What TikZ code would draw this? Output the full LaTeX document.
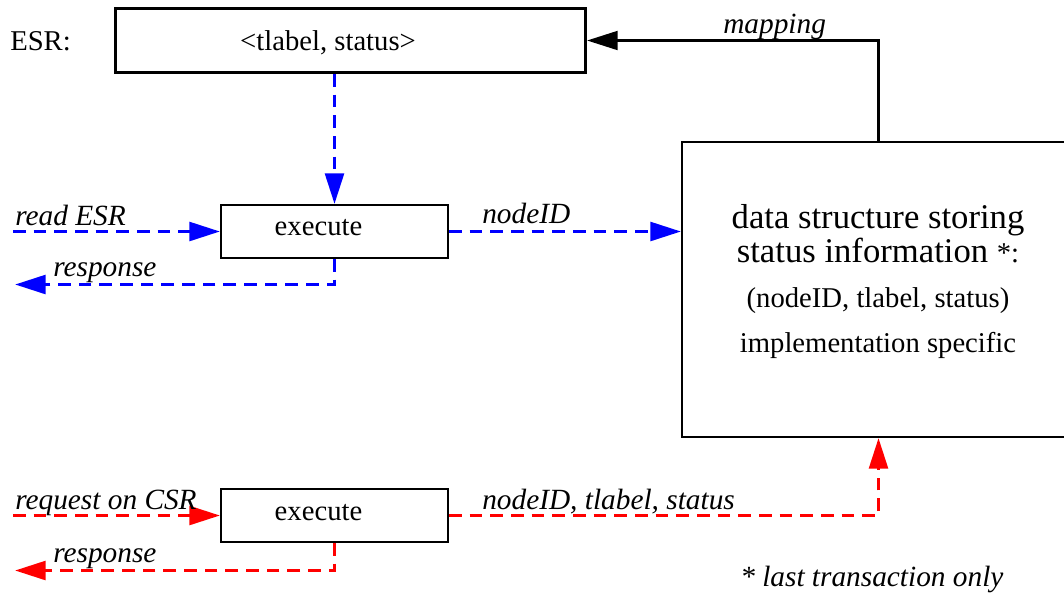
\documentclass[tikz,border=0pt]{standalone}
\usepackage{fontspec}
\setmainfont{Liberation Serif}
\usetikzlibrary{arrows.meta}

\definecolor{esrblue}{RGB}{0,0,255}
\definecolor{csrred}{RGB}{255,0,0}

\begin{document}
\begin{tikzpicture}[x=0.75pt, y=-0.75pt,
    every node/.style={inner sep=0pt},
    txt/.style={font=\fontsize{21.5}{25}\selectfont, anchor=base},
    lbl/.style={font=\fontsize{22}{26}\selectfont\itshape, anchor=base west},
    box/.style={draw, line width=1.5pt},
    flow/.style={line width=2.7pt, dash pattern=on 9.5pt off 6pt,
      -{Triangle[length=23pt,width=14pt]}}]
    \useasboundingbox (0,0) rectangle (1064,594);

    % boxes
    \node[box, line width=2.25pt, minimum width=352.5pt, minimum height=48pt] (esr) at (350.5,40.5) {};
    \node[box, minimum width=170.25pt, minimum height=39.75pt] (exread) at (334.5,231.5) {};
    \node[box, minimum width=170.25pt, minimum height=39.75pt] (exreq) at (334.5,515.5) {};
    \node[box, minimum width=294.75pt, minimum height=221.25pt] (store) at (878.5,289.5) {};

    % texts in the boxes
    \node[txt, anchor=base west] (esrname) at (10,50) {ESR:};
    \node[txt] (esrtext) at (328,50) {<tlabel, status>};
    \node[txt] (readtext) at (318.5,235) {execute};
    \node[txt] (reqtext) at (318.5,520) {execute};
    \node[txt, font=\fontsize{26}{30}\selectfont] (storeA) at (878,228) {data structure storing};
    \node[txt, font=\fontsize{26}{30}\selectfont] (storeB) at (878,262) {status information {\fontsize{21.5}{25}\selectfont *:}};
    \node[txt] (storeC) at (878,307) {(nodeID, tlabel, status)};
    \node[txt] (storeD) at (878,352) {implementation specific};

    % free ends
    \coordinate (readin) at (13,231.5);
    \coordinate (readout) at (15,284.5);
    \coordinate (reqin) at (13,515.5);
    \coordinate (reqout) at (15,570.5);

    % mapping
    \draw[line width=2.25pt, -{Triangle[length=23pt,width=14pt]}] (store.north) |- (esr.east);
    \node[lbl] (maplbl) at (723,33) {mapping};

    % ESR read path
    \draw[flow, esrblue] (exread.north |- esr.south) -- (exread.north);
    \draw[flow, esrblue] (readin) -- (exread.west);
    \draw[flow, esrblue] (exread.south) |- (readout);
    \draw[flow, esrblue] (exread.east) -- (exread.east -| store.west);
    \node[lbl] (readlbl) at (15,225) {read ESR};
    \node[lbl] (readresp) at (53,276) {response};
    \node[lbl] (nodelbl) at (482,223) {nodeID};

    % CSR request path
    \draw[flow, csrred] (reqin) -- (exreq.west);
    \draw[flow, csrred] (exreq.south) |- (reqout);
    \draw[flow, csrred] (exreq.east) -| (store.south);
    \node[lbl] (reqlbl) at (15,509) {request on CSR};
    \node[lbl] (reqresp) at (53,562) {response};
    \node[lbl] (triplbl) at (482,509) {nodeID, tlabel, status};

    % footnote
    \node[lbl] (note) at (740,586) {* last transaction only};
  \end{tikzpicture}
\end{document}
